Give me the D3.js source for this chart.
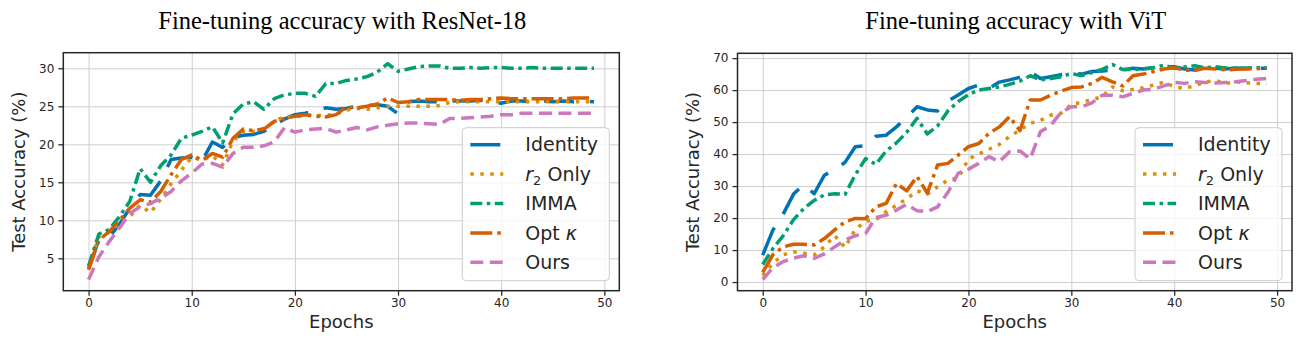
<!DOCTYPE html>
<html><head><meta charset="utf-8">
<script src="https://cdn.jsdelivr.net/npm/d3@7"></script>
<style>
body{margin:0;background:#fff}
svg{display:block}
text{font-family:"DejaVu Sans",sans-serif;fill:#262626}
</style>
</head><body>
<svg id="chart" width="1300" height="341"></svg>
<script>
// ---------- data ----------
const seriesNames = ["Identity", "r2 Only", "IMMA", "Opt κ", "Ours"];
const seriesColors = ["#0173b2", "#de8f05", "#029e73", "#d55e00", "#cc78bc"];
const xTicks = [0, 10, 20, 30, 40, 50];
const resnetYTicks = [5, 10, 15, 20, 25, 30];
const vitYTicks = [0, 10, 20, 30, 40, 50, 60, 70];

const resnetIdentity = [3.6,7.5,7.8,9.5,11.6,13.4,13.3,15.2,18.0,18.2,18.3,17.8,20.3,19.6,20.9,21.2,21.3,21.7,22.6,23.3,23.9,24.1,24.4,24.8,24.6,24.7,25.0,25.1,25.2,25.0,24.0,25.6,25.7,25.6,25.6,25.7,25.7,25.7,25.8,25.6,25.4,25.7,25.7,25.6,25.7,25.6,25.7,25.6,25.7,25.6];
const resnetR2 = [3.9,7.8,8.5,9.6,10.5,12.0,11.0,12.8,14.8,16.6,18.3,17.9,18.5,17.3,20.4,21.7,21.7,22.1,23.0,23.7,23.6,23.8,23.8,23.8,24.0,24.5,24.7,24.6,24.8,25.0,25.0,25.0,25.0,25.0,25.1,25.5,25.6,25.6,25.6,25.6,25.6,25.6,25.6,25.6,25.6,25.6,25.6,25.6,25.6,25.6];
const resnetImma = [4.0,8.2,8.8,10.5,12.5,16.8,15.0,17.2,18.6,20.8,21.2,21.7,22.3,20.2,24.0,25.3,25.6,24.6,26.0,26.5,26.7,26.7,26.3,28.0,28.0,28.4,28.6,28.9,29.5,30.6,29.6,29.9,30.2,30.3,30.3,30.0,30.0,30.1,30.0,30.1,30.1,30.0,30.0,30.1,30.0,30.0,30.0,30.0,30.0,30.0];
const resnetOptK = [3.5,7.4,8.5,10.0,11.6,12.7,12.4,13.8,16.0,18.0,18.6,17.9,18.8,18.3,20.8,22.0,21.8,22.0,23.0,23.4,23.7,23.9,23.7,23.6,23.9,24.9,24.8,25.0,25.3,26.1,25.5,25.6,25.9,25.9,25.9,25.9,25.8,25.9,25.9,26.0,26.1,26.0,26.0,26.0,26.0,26.0,26.0,26.1,26.1,26.1];
const resnetOurs = [2.2,5.2,7.2,9.0,10.9,11.8,12.2,12.9,13.8,15.2,16.2,17.4,17.5,17.0,18.8,19.6,19.6,19.8,20.3,22.2,21.6,21.9,22.0,22.1,21.6,21.9,22.2,21.9,22.3,22.5,22.7,22.8,22.8,22.7,22.6,23.4,23.4,23.5,23.6,23.7,23.9,23.9,24.1,24.1,24.1,24.1,24.1,24.1,24.1,24.1];

const vitIdentity = [8.4,16.3,21.3,27.5,30.5,27.6,33.4,35.2,37.4,42.3,42.6,45.6,45.9,48.5,51.5,54.8,53.8,53.5,56.5,58.5,60.5,61.6,60.5,62.5,63.2,64.0,65.7,63.6,64.2,64.8,65.4,65.0,65.8,66.0,66.2,66.3,66.8,66.6,67.0,67.3,67.3,66.6,66.3,66.8,66.8,66.6,66.9,66.7,66.8,66.8];
const vitR2 = [2.0,6.0,8.5,9.5,9.0,8.5,11.0,14.5,10.8,16.5,19.0,19.5,22.0,24.0,26.0,28.5,27.5,29.8,31.9,32.5,38.5,40.0,41.5,43.0,45.5,47.5,49.6,50.5,52.2,52.8,55.5,56.2,57.0,57.9,61.0,59.8,60.2,60.7,61.6,62.5,61.0,60.5,61.4,62.5,63.0,62.1,62.6,62.3,62.1,62.1];
const vitImma = [5.5,10.5,14.5,19.5,23.0,25.5,27.3,27.6,27.4,33.5,38.6,36.8,41.0,43.5,46.8,51.2,46.3,48.8,53.5,56.4,58.6,60.0,60.5,61.0,61.8,62.8,64.5,63.2,63.6,64.2,65.2,64.5,65.5,66.5,68.0,66.4,66.4,66.7,67.0,67.8,66.8,67.2,67.6,67.0,67.3,66.9,66.8,66.9,67.0,67.0];
const vitOptK = [3.0,8.6,11.0,11.8,11.8,11.6,13.6,16.3,18.8,19.9,19.8,23.5,24.6,30.8,28.5,33.0,27.8,36.6,37.1,39.7,42.3,43.3,46.5,48.5,51.7,47.3,56.9,56.9,58.4,59.7,60.8,61.0,62.1,64.0,62.6,61.3,64.5,65.0,65.8,66.6,67.0,66.2,66.2,66.8,66.6,66.3,66.5,66.6,66.7,66.8];
const vitOurs = [0.8,4.5,6.4,7.5,8.2,7.4,8.8,11.0,13.1,14.5,15.2,20.2,20.9,22.5,24.3,22.3,22.0,23.5,28.0,34.0,35.3,37.1,39.2,37.6,40.7,41.0,38.5,47.0,49.0,53.0,54.8,54.8,56.0,58.4,58.4,57.9,59.0,60.0,60.3,61.3,62.4,62.1,62.6,62.4,62.2,62.4,62.6,63.0,63.4,63.6];

// ---------- layout / style ----------
const dashes = ["30,16", "3.5,6.5", "12,4.5,3.5,4.5", "22,5,3.5,5", "13,6.5"];
const panels = [
  {title:"Fine-tuning accuracy with ResNet-18", left:63.3, right:619.3, top:52.7, bottom:290.7,
   yDomain:[0.74,32.05], yTicks:resnetYTicks,
   series:[resnetIdentity,resnetR2,resnetImma,resnetOptK,resnetOurs], ylabelX:19},
  {title:"Fine-tuning accuracy with ViT", left:737.5, right:1292, top:53.3, bottom:290.7,
   yDomain:[-2.7,71.5], yTicks:vitYTicks,
   series:[vitIdentity,vitR2,vitImma,vitOptK,vitOurs], ylabelX:693}
];

const svg = d3.select("#chart");

panels.forEach(p => {
  const x = d3.scaleLinear().domain([-2.45, 51.45]).range([p.left, p.right]);
  const y = d3.scaleLinear().domain(p.yDomain).range([p.bottom, p.top]);
  const g = svg.append("g");

  // grid
  g.append("g").attr("transform", `translate(0,${p.bottom})`)
    .call(d3.axisBottom(x).tickValues(xTicks).tickSize(-(p.bottom - p.top)).tickFormat(""))
    .call(s => { s.select(".domain").remove(); s.selectAll("line").attr("stroke", "#cfcfcf").attr("stroke-width", 1); });
  g.append("g").attr("transform", `translate(${p.left},0)`)
    .call(d3.axisLeft(y).tickValues(p.yTicks).tickSize(-(p.right - p.left)).tickFormat(""))
    .call(s => { s.select(".domain").remove(); s.selectAll("line").attr("stroke", "#cfcfcf").attr("stroke-width", 1); });

  // lines
  const clipId = "clip" + Math.round(p.left);
  svg.append("clipPath").attr("id", clipId).append("rect")
    .attr("x", p.left).attr("y", p.top).attr("width", p.right - p.left).attr("height", p.bottom - p.top);
  const lineGen = d3.line().x((d, i) => x(i)).y(d => y(d));
  p.series.forEach((vals, k) => {
    g.append("path").datum(vals)
      .attr("clip-path", `url(#${clipId})`)
      .attr("d", lineGen)
      .attr("fill", "none")
      .attr("stroke", seriesColors[k])
      .attr("stroke-width", 3.5)
      .attr("stroke-dasharray", dashes[k])
      .attr("stroke-linejoin", "round")
      .attr("stroke-linecap", "butt");
  });

  // axes
  const xa = g.append("g").attr("transform", `translate(0,${p.bottom})`)
    .call(d3.axisBottom(x).tickValues(xTicks).tickSize(5).tickPadding(3));
  const ya = g.append("g").attr("transform", `translate(${p.left},0)`)
    .call(d3.axisLeft(y).tickValues(p.yTicks).tickSize(5).tickPadding(4));
  [xa, ya].forEach(a => {
    a.select(".domain").remove();
    a.selectAll("line").attr("stroke", "#262626").attr("stroke-width", 1.25);
    a.selectAll("text").attr("font-size", 12).attr("font-family", "DejaVu Sans").attr("fill", "#262626");
  });

  // frame
  g.append("rect").attr("x", p.left).attr("y", p.top)
    .attr("width", p.right - p.left).attr("height", p.bottom - p.top)
    .attr("fill", "none").attr("stroke", "#262626").attr("stroke-width", 1.5);

  // labels
  g.append("text").attr("x", (p.left + p.right) / 2).attr("y", 328)
    .attr("text-anchor", "middle").attr("font-size", 18).text("Epochs");
  g.append("text").attr("transform", `translate(${p.ylabelX},${(p.top + p.bottom) / 2}) rotate(-90)`)
    .attr("text-anchor", "middle").attr("font-size", 18).attr("dy", "0.35em").text("Test Accuracy (%)");
  g.append("text").attr("x", (p.left + p.right) / 2 + 1).attr("y", 29)
    .attr("text-anchor", "middle").attr("font-size", 24.5)
    .style("font-family", "'Liberation Serif', serif")
    .style("fill", "#000").text(p.title);

  // legend
  const lw = 147, lh = 153;
  const lx = p.right - 10 - lw, ly = p.bottom - 10 - lh;
  const lg = g.append("g");
  lg.append("rect").attr("x", lx).attr("y", ly).attr("width", lw).attr("height", lh)
    .attr("rx", 4).attr("fill", "#fff").attr("fill-opacity", 0.8)
    .attr("stroke", "#cccccc").attr("stroke-width", 1);
  seriesNames.forEach((name, k) => {
    const cy = ly + 17 + k * 29.4;
    lg.append("line").attr("x1", lx + 8).attr("x2", lx + 41).attr("y1", cy).attr("y2", cy)
      .attr("stroke", seriesColors[k]).attr("stroke-width", 3.5).attr("stroke-dasharray", dashes[k]);
    const t = lg.append("text").attr("x", lx + 63).attr("y", cy).attr("dy", "0.35em").attr("font-size", 19);
    if (name === "r2 Only") {
      t.append("tspan").attr("font-style", "italic").text("r");
      t.append("tspan").attr("font-size", 13).attr("dy", 4).text("2");
      t.append("tspan").attr("dy", -4).text(" Only");
    } else if (name === "Opt κ") {
      t.append("tspan").text("Opt ");
      t.append("tspan").attr("font-style", "italic").text("κ");
    } else {
      t.text(name);
    }
  });
});
</script>
</body></html>
